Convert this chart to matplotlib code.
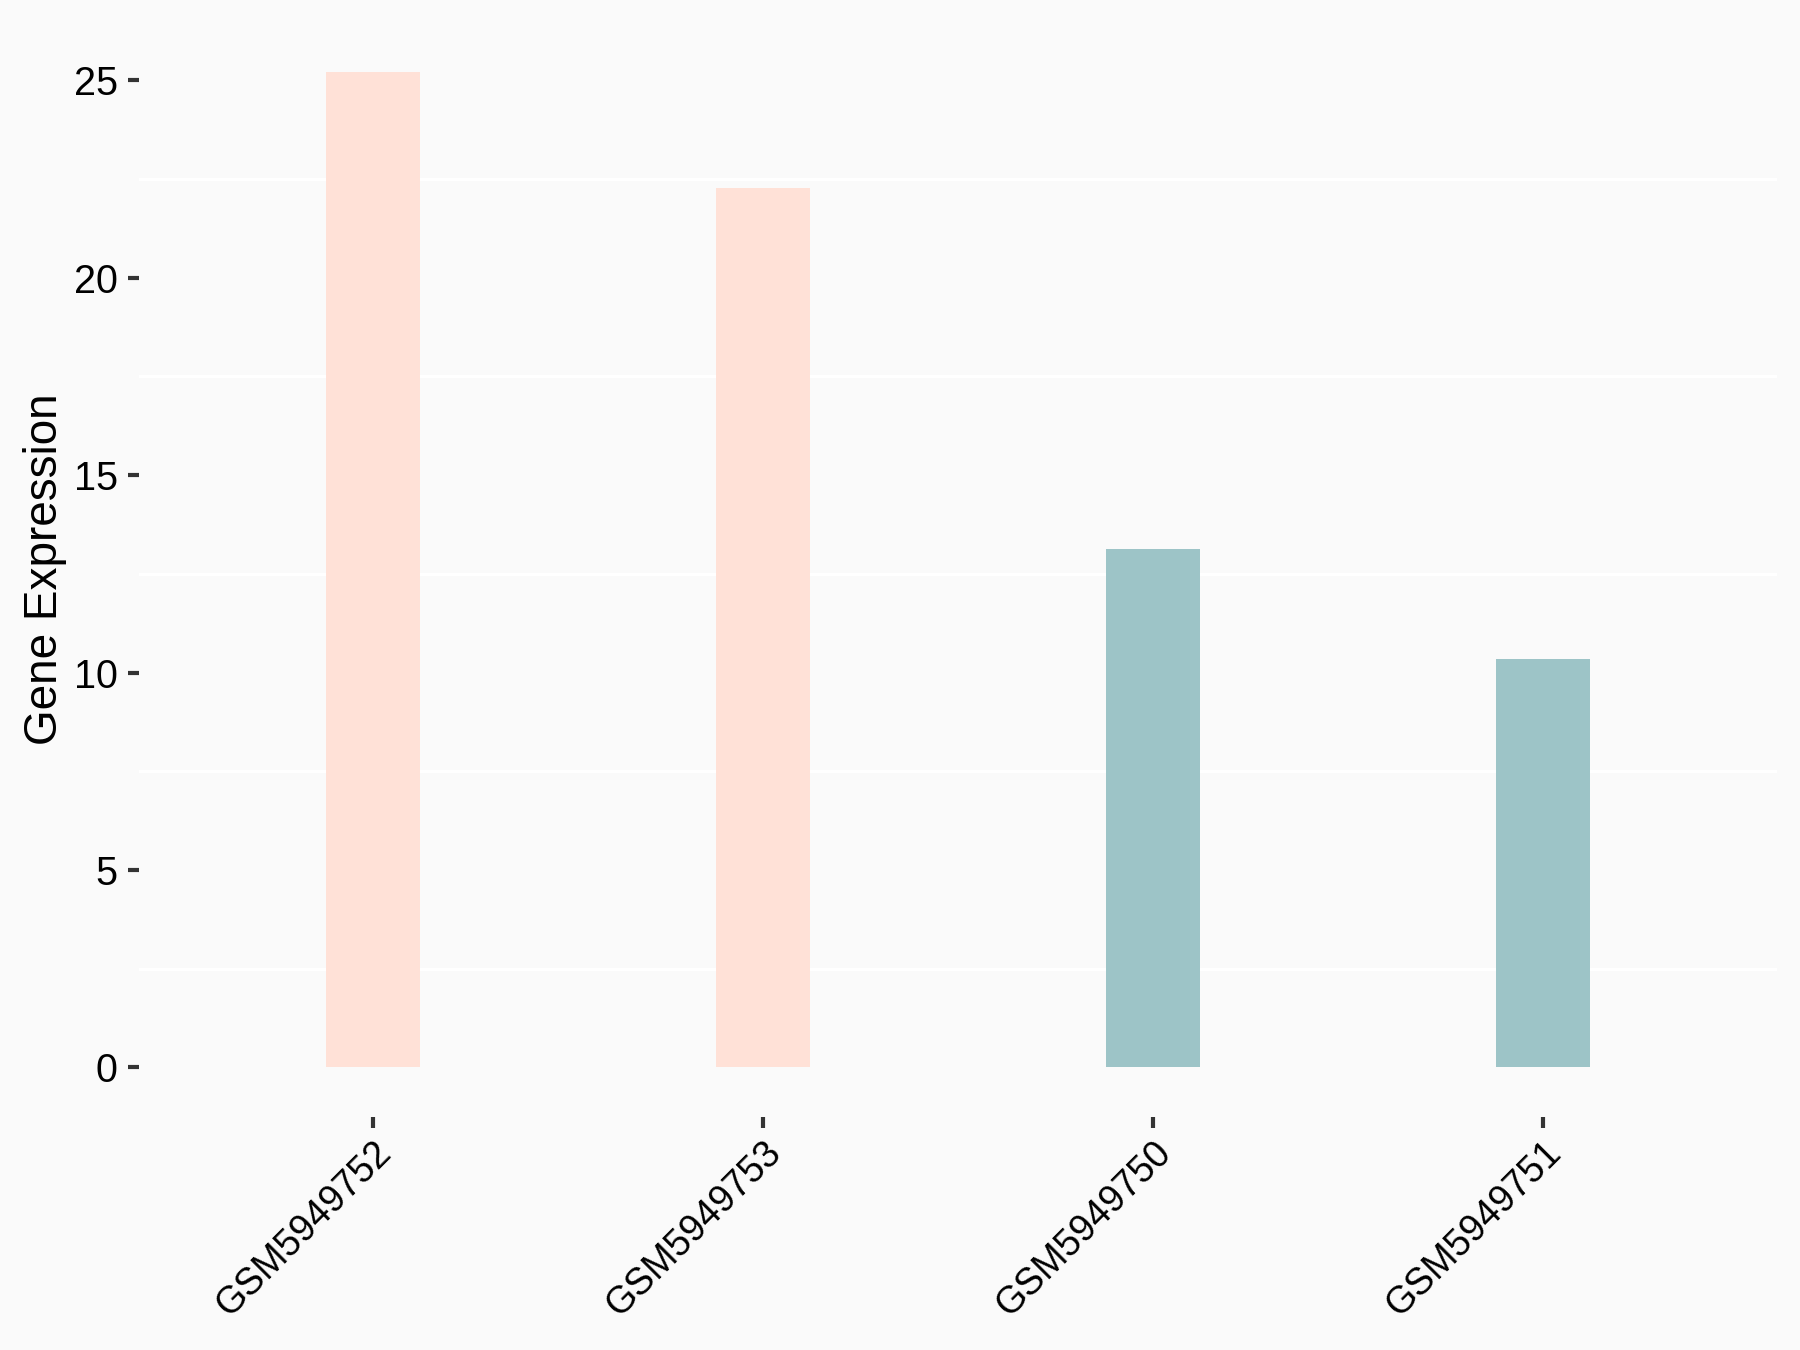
import matplotlib
matplotlib.use("Agg")
import matplotlib.pyplot as plt
from matplotlib.ticker import MultipleLocator

samples = ["GSM5949752", "GSM5949753", "GSM5949750", "GSM5949751"]
values = [25.22, 22.27, 13.14, 10.35]
groups = ["A", "A", "B", "B"]
group_colors = {"A": "#FFE1D7", "B": "#9DC4C7"}
yticks = [0, 5, 10, 15, 20, 25]

plt.rcParams["font.family"] = ["Liberation Sans", "DejaVu Sans"]

fig = plt.figure(figsize=(6, 4.5), dpi=300, facecolor="#FAFAFA")
ax = fig.add_axes([139 / 1800, 1 - 1117 / 1350, (1777 - 139) / 1800, (1117 - 22) / 1350])
ax.set_facecolor("#FAFAFA")

x = list(range(1, len(samples) + 1))
ax.bar(x, values, width=0.24, color=[group_colors[g] for g in groups], zorder=2)

ax.set_xlim(0.4, 4.6)
ymax = max(values)
ax.set_ylim(-0.05 * ymax, ymax * 1.05)
ax.set_yticks(yticks)
ax.set_yticklabels([str(t) for t in yticks])
ax.yaxis.set_minor_locator(MultipleLocator(2.5))
ax.grid(which="minor", axis="y", color="white", linewidth=0.8, zorder=1)
ax.grid(which="major", visible=False)
ax.tick_params(axis="y", which="minor", length=0)
ax.set_xticks(x)
ax.set_xticklabels(samples, rotation=45, ha="right", va="top", rotation_mode="anchor")

for s in ax.spines.values():
    s.set_visible(False)

ax.tick_params(axis="both", which="major", length=2.7, width=1.0, color="#333333",
               labelsize=9.5, labelcolor="black", pad=2.4)
ax.tick_params(axis="x", which="major", pad=1.6, labelsize=9.0)
ax.set_ylabel("Gene Expression", fontsize=11, color="black", labelpad=1.5)

fig.savefig("out.png", dpi=300, facecolor="#FAFAFA")
